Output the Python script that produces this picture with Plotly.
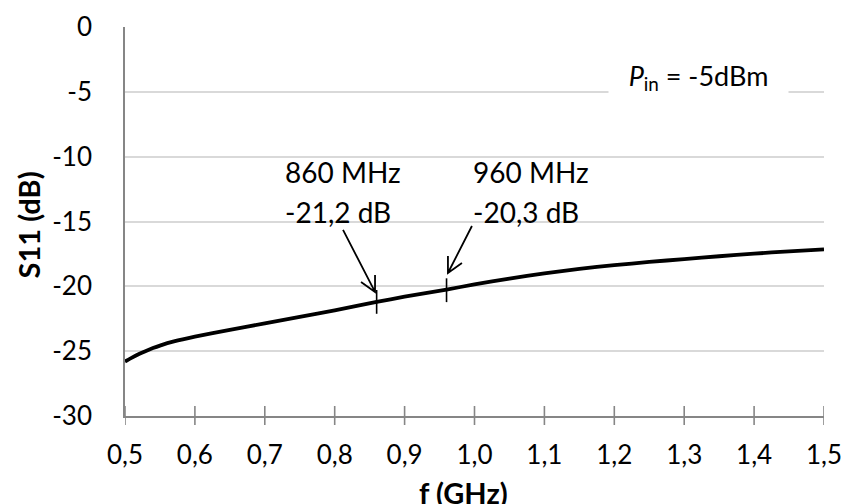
import plotly.graph_objects as go

# ---- data ----
freq_ghz = [0.50, 0.51, 0.52, 0.53, 0.54, 0.55, 0.57, 0.60, 0.65, 0.70, 0.75,
            0.80, 0.86, 0.90, 0.96, 1.00, 1.05, 1.10, 1.15, 1.20, 1.25, 1.30,
            1.35, 1.40, 1.45, 1.50]
s11_db = [-25.8, -25.5, -25.22, -24.98, -24.76, -24.57, -24.25, -23.88, -23.36,
          -22.85, -22.35, -21.85, -21.2, -20.8, -20.25, -19.85, -19.4, -19.0,
          -18.65, -18.37, -18.12, -17.9, -17.68, -17.48, -17.3, -17.15]
marker_freq = [0.86, 0.96]
marker_s11 = [-21.2, -20.3]
marker_labels = [["860 MHz", "-21,2 dB"], ["960 MHz", "-20,3 dB"]]

x_tickvals = [0.5, 0.6, 0.7, 0.8, 0.9, 1.0, 1.1, 1.2, 1.3, 1.4, 1.5]
x_ticktext = ["0,5", "0,6", "0,7", "0,8", "0,9", "1,0", "1,1", "1,2", "1,3", "1,4", "1,5"]
y_tickvals = [0, -5, -10, -15, -20, -25, -30]
y_ticktext = ["0", "-5", "-10", "-15", "-20", "-25", "-30"]

FONT = "Lato"
FS = 26
AXIS_COLOR = "#868686"
GRID_COLOR = "#d9d9d9"

fig = go.Figure()
fig.add_trace(go.Scatter(x=freq_ghz, y=s11_db, mode="lines",
                         line=dict(color="black", width=3.8, shape="spline",
                                   smoothing=0.6),
                         showlegend=False))
fig.add_trace(go.Scatter(x=marker_freq, y=marker_s11, mode="markers",
                         marker=dict(symbol="line-ns-open", size=17, color="black",
                                     line=dict(color="black", width=1.6)),
                         showlegend=False))

annotations = []
# label texts
label_pos = [(0.726, -11.15, -14.25), (0.995, -11.15, -14.25)]
for (lx, y1, y2), lines in zip(label_pos, marker_labels):
    for yy, t in zip((y1, y2), lines):
        annotations.append(dict(x=lx, y=yy, xref="x", yref="y", text=t,
                                showarrow=False, xanchor="left", yanchor="middle",
                                font=dict(family=FONT, size=28, color="black")))
# P_in box
annotations.append(dict(x=1.3205, y=-3.85, xref="x", yref="y",
                        text="<i>P</i><sub>in</sub> = -5dBm", showarrow=False,
                        xanchor="center", yanchor="middle", width=177, height=46,
                        bgcolor="white", align="center", valign="middle",
                        font=dict(family=FONT, size=27, color="black")))
# axis titles
annotations.append(dict(x=0.4846, y=0, xref="paper", yref="paper",
                        text="<b>f (GHz)</b>", showarrow=False,
                        xanchor="center", yanchor="middle", yshift=-76,
                        font=dict(family=FONT, size=29, color="black")))
annotations.append(dict(x=0, y=0.49, xref="paper", yref="paper",
                        text="<b>S11 (dB)</b>", showarrow=False, textangle=-90,
                        xanchor="center", yanchor="middle", xshift=-97,
                        font=dict(family=FONT, size=29, color="black")))

shapes = []
# x tick marks crossing the axis
for tv in x_tickvals:
    shapes.append(dict(type="line", xref="x", yref="paper", x0=tv, x1=tv,
                       ysizemode="pixel", yanchor=0, y0=-9, y1=10,
                       line=dict(color=AXIS_COLOR, width=1.6)))
# arrows (anchored at head, drawn in pixel offsets)
arrow_heads = [(0.8577, -20.43), (0.962, -18.97)]
arrow_paths = ["M-32,62 L0,0 M0,17 L0,0 L-14,10",
               "M24,47 L0,0 M14,10 L0,0 L0,17"]
for (hx, hy), p in zip(arrow_heads, arrow_paths):
    shapes.append(dict(type="path", xref="x", yref="y", xsizemode="pixel",
                       ysizemode="pixel", xanchor=hx, yanchor=hy, path=p,
                       line=dict(color="black", width=1.8)))

fig.update_layout(
    width=846, height=504,
    margin=dict(l=125, r=22, t=27, b=88, autoexpand=False),
    paper_bgcolor="white", plot_bgcolor="white",
    font=dict(family=FONT, size=FS, color="black"),
    annotations=annotations, shapes=shapes,
    xaxis=dict(range=[0.5, 1.5], tickvals=x_tickvals, ticktext=x_ticktext,
               showgrid=False, zeroline=False, showline=True, automargin=False,
               linecolor=AXIS_COLOR, linewidth=1.6, ticks="",
               ticklabelstandoff=15, tickfont=dict(family=FONT, size=FS)),
    yaxis=dict(range=[-30, 0], tickvals=y_tickvals, ticktext=y_ticktext,
               showgrid=True, gridcolor=GRID_COLOR, gridwidth=1.6,
               zeroline=False, showline=True, linecolor=AXIS_COLOR,
               linewidth=1.6, ticks="", ticklabelstandoff=26, automargin=False,
               tickfont=dict(family=FONT, size=FS)),
)

fig.write_html("out.html")
